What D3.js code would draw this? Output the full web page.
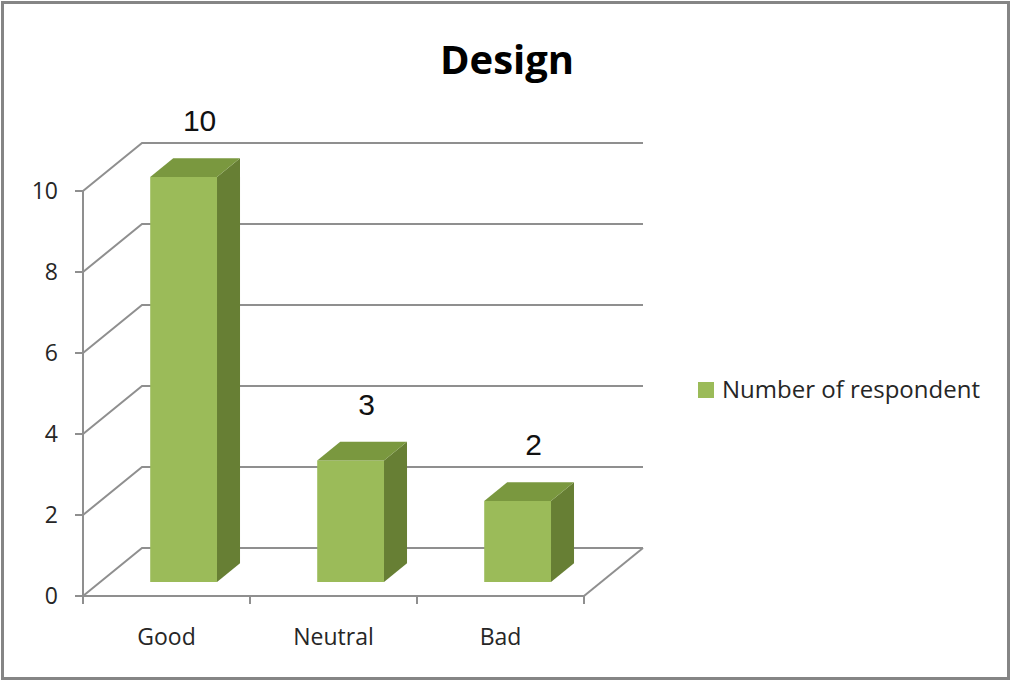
<!DOCTYPE html>
<html>
<head>
<meta charset="utf-8">
<script src="https://cdn.jsdelivr.net/npm/d3@7"></script>
<style>
  body { margin: 0; background: #fff; }
  svg { display: block; }
  .tick-label { font-family: "Open Sans", sans-serif; font-size: 23px; fill: #262626; }
  .legend-label { font-family: "Open Sans", sans-serif; font-size: 24px; fill: #262626; }
  .value-label { font-family: "Liberation Sans", Arial, sans-serif; font-size: 30px; fill: #111; }
  .title { font-family: "Open Sans", sans-serif; font-size: 40px; font-weight: bold; fill: #000; }
</style>
</head>
<body>
<svg id="chart" width="1011" height="681"></svg>
<script>
// data
const categories = ["Good", "Neutral", "Bad"]
const values = [10, 3, 2]
const yTicks = [0, 2, 4, 6, 8, 10]
const seriesName = "Number of respondent"
const chartTitle = "Design"

const svg = d3.select("#chart")
const W = 1011, H = 681

// frame
svg.append("rect")
    .attr("x", 2.5).attr("y", 2.5)
    .attr("width", W - 5).attr("height", H - 5)
    .attr("fill", "#fff")
    .attr("stroke", "#858585")
    .attr("stroke-width", 3)

// 3d plot geometry
const x0 = 83, x1 = 584, floorY = 596
const depth = {dx: 59, dy: -48}
const gridColor = "#8f8f8f"

const xScale = d3.scaleBand().domain(categories).range([x0, x1]).paddingInner(0.6).paddingOuter(0.3)
const yScale = d3.scaleLinear().domain([0, 10]).range([0, 405])

// project front-plane x, value v, depth fraction t
const P = (x, v, t) => [x + t * depth.dx, floorY - yScale(v) + t * depth.dy]
const pts = arr => arr.map(p => p.join(",")).join(" ")

const walls = svg.append("g")

// back wall gridlines + left wall diagonals
yTicks.forEach(v => {
    walls.append("polyline")
        .attr("points", pts([P(x0, v, 0), P(x0, v, 1), P(x1, v, 1)]))
        .attr("fill", "none")
        .attr("stroke", gridColor)
        .attr("stroke-width", 2)
})

// floor right edge
const fr = [P(x1, 0, 0), P(x1, 0, 1)]
walls.append("line")
    .attr("x1", fr[0][0]).attr("y1", fr[0][1])
    .attr("x2", fr[1][0]).attr("y2", fr[1][1])
    .attr("stroke", gridColor).attr("stroke-width", 2)

// front x axis
walls.append("line")
    .attr("x1", x0).attr("y1", floorY).attr("x2", x1).attr("y2", floorY)
    .attr("stroke", gridColor).attr("stroke-width", 2)
// category boundaries
const step = (x1 - x0) / categories.length
d3.range(categories.length + 1).forEach(i => {
    walls.append("line")
        .attr("x1", x0 + i * step).attr("x2", x0 + i * step)
        .attr("y1", floorY).attr("y2", floorY + 8)
        .attr("stroke", gridColor).attr("stroke-width", 2)
})

// y axis
walls.append("line")
    .attr("x1", x0).attr("x2", x0)
    .attr("y1", floorY).attr("y2", floorY - yScale(10))
    .attr("stroke", gridColor).attr("stroke-width", 2)
yTicks.forEach(v => {
    walls.append("line")
        .attr("x1", x0 - 8).attr("x2", x0)
        .attr("y1", floorY - yScale(v)).attr("y2", floorY - yScale(v))
        .attr("stroke", gridColor).attr("stroke-width", 2)
    walls.append("text")
        .attr("class", "tick-label")
        .attr("x", 58).attr("y", floorY - yScale(v))
        .attr("dy", "0.35em")
        .attr("text-anchor", "end")
        .text(v)
})

// category labels
categories.forEach((c, i) => {
    walls.append("text")
        .attr("class", "tick-label")
        .attr("x", x0 + (i + 0.5) * step).attr("y", 645)
        .attr("text-anchor", "middle")
        .text(c)
})

// bars
const tFront = 0.29, tBack = 0.68
const frontColor = "#9bbb59", sideColor = "#677f34", topColor = "#7a983f"
const bars = svg.append("g")
categories.forEach((c, i) => {
    const xl = xScale(c), xr = xl + xScale.bandwidth(), v = values[i]
    // front face
    bars.append("polygon")
        .attr("points", pts([P(xl, 0, tFront), P(xr, 0, tFront), P(xr, v, tFront), P(xl, v, tFront)]))
        .attr("fill", frontColor)
    // side face
    bars.append("polygon")
        .attr("points", pts([P(xr, 0, tFront), P(xr, 0, tBack), P(xr, v, tBack), P(xr, v, tFront)]))
        .attr("fill", sideColor)
    // top face
    bars.append("polygon")
        .attr("points", pts([P(xl, v, tFront), P(xr, v, tFront), P(xr, v, tBack), P(xl, v, tBack)]))
        .attr("fill", topColor)
    // value label
    const tp = P((xl + xr) / 2, v, tBack)
    bars.append("text")
        .attr("class", "value-label")
        .attr("x", tp[0] - 7).attr("y", tp[1] - 27)
        .attr("text-anchor", "middle")
        .text(v)
})

// title
svg.append("text")
    .attr("class", "title")
    .attr("x", 507).attr("y", 74)
    .attr("text-anchor", "middle")
    .text(chartTitle)

// legend
const legend = svg.append("g").attr("transform", "translate(698,382)")
legend.append("rect").attr("width", 16).attr("height", 16).attr("fill", frontColor)
legend.append("text")
    .attr("class", "legend-label")
    .attr("x", 24).attr("y", 8).attr("dy", "0.35em")
    .text(seriesName)
</script>
</body>
</html>
